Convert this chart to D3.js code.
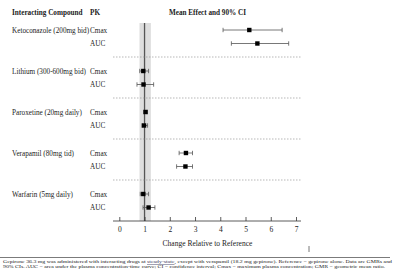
<!DOCTYPE html>
<html><head><meta charset="utf-8">
<script src="https://cdnjs.cloudflare.com/ajax/libs/d3/7.8.5/d3.min.js"></script>
<style>body{margin:0;background:#fff}svg{display:block}text{font-family:"Liberation Serif","DejaVu Serif",serif;fill:#222}</style>
</head><body><svg id="c" width="400" height="277"></svg>
<script>
const compounds = ["Ketoconazole (200mg bid)", "Lithium (300-600mg bid)", "Paroxetine (20mg daily)", "Verapamil (80mg tid)", "Warfarin (5mg daily)"];
const pkParams = ["Cmax", "AUC"];
const cmaxMean = [5.15, 0.95, 1.04, 2.64, 0.95];
const cmaxLow  = [4.11, 0.81, 0.98, 2.37, 0.83];
const cmaxHigh = [6.45, 1.16, 1.10, 2.90, 1.16];
const aucMean  = [5.47, 0.96, 0.98, 2.62, 1.16];
const aucLow   = [4.44, 0.70, 0.90, 2.27, 0.94];
const aucHigh  = [6.71, 1.36, 1.12, 2.90, 1.41];
const xTicks = [0, 1, 2, 3, 4, 5, 6, 7];
const refBand = [0.8, 1.25];
const footnote1 = ["Gepirone 36.3 mg was administered with interacting drugs at ", "steady-state", ", except with verapamil (18.2 mg gepirone). Reference = gepirone alone. Data are GMRs and"];
const footnote2 = "90% CIs. AUC = area under the plasma concentration-time curve; CI = confidence interval; Cmax = maximum plasma concentration; GMR = geometric mean ratio.";

const svg = d3.select("#c");
const x = d3.scaleLinear().domain([0, 7]).range([119.3, 296]);
const gy = d3.scalePoint().domain(compounds).range([30, 194]);
const rowOff = d3.scalePoint().domain(pkParams).range([0, 13.5]);
const axisY = 221, plotTop = 23;

const rows = [];
compounds.forEach((c, i) => {
  rows.push({c, pk: "Cmax", m: cmaxMean[i], lo: cmaxLow[i], hi: cmaxHigh[i]});
  rows.push({c, pk: "AUC", m: aucMean[i], lo: aucLow[i], hi: aucHigh[i]});
});
const ry = d => gy(d.c) + rowOff(d.pk);

// reference band and line
svg.append("rect").attr("x", x(refBand[0])).attr("y", plotTop)
  .attr("width", x(refBand[1]) - x(refBand[0])).attr("height", axisY - plotTop).attr("fill", "#dedede");
svg.append("line").attr("x1", x(1)).attr("x2", x(1)).attr("y1", plotTop).attr("y2", axisY)
  .attr("stroke", "#555").attr("stroke-width", 1.3);

// separators
compounds.slice(0, -1).forEach(c => {
  const yy = gy(c) + 27;
  svg.append("line").attr("x1", 113).attr("x2", 301).attr("y1", yy).attr("y2", yy)
    .attr("stroke", "#999").attr("stroke-width", 0.7).attr("stroke-dasharray", "1.5,1.5");
});

// axis
const ax = svg.append("g").attr("transform", `translate(0,${axisY})`)
  .call(d3.axisBottom(x).tickValues(xTicks).tickFormat(d3.format("d")).tickSizeInner(-4).tickSizeOuter(0).tickPadding(6));
ax.select(".domain").remove();
ax.selectAll(".tick line").attr("stroke", "#333").attr("stroke-width", 0.8);
ax.selectAll(".tick text").attr("font-size", 7.5).attr("font-family", "Liberation Serif").attr("fill", "#222").attr("dy", "0.71em");
svg.append("line").attr("x1", 113).attr("x2", 301).attr("y1", axisY).attr("y2", axisY).attr("stroke", "#333").attr("stroke-width", 0.8);

// error bars
const g = svg.append("g");
rows.forEach(d => {
  const yy = ry(d);
  g.append("line").attr("x1", x(d.lo)).attr("x2", x(d.hi)).attr("y1", yy).attr("y2", yy).attr("stroke", "#555").attr("stroke-width", 0.8);
  [d.lo, d.hi].forEach(v => g.append("line").attr("x1", x(v)).attr("x2", x(v)).attr("y1", yy - 2.2).attr("y2", yy + 2.2).attr("stroke", "#555").attr("stroke-width", 0.8));
  g.append("rect").attr("x", x(d.m) - 2.2).attr("y", yy - 2.2).attr("width", 4.4).attr("height", 4.4).attr("fill", "#000");
});

// labels
compounds.forEach(c => {
  svg.append("text").attr("x", 12).attr("y", gy(c)).attr("dy", "0.35em").attr("font-size", 7.2).text(c);
});
rows.forEach(d => {
  svg.append("text").attr("x", 90).attr("y", ry(d)).attr("dy", "0.35em").attr("font-size", 7.2).text(d.pk);
});

// headers
svg.append("text").attr("x", 12).attr("y", 12).attr("dy", "0.35em").attr("font-size", 7.2).attr("font-weight", "bold").text("Interacting Compound");
svg.append("text").attr("x", 90).attr("y", 12).attr("dy", "0.35em").attr("font-size", 7.2).attr("font-weight", "bold").text("PK");
svg.append("text").attr("x", 207.5).attr("y", 12).attr("dy", "0.35em").attr("text-anchor", "middle").attr("font-size", 7.2).attr("font-weight", "bold").text("Mean Effect and 90% CI");
svg.append("text").attr("x", 207.5).attr("y", 243).attr("dy", "0.35em").attr("text-anchor", "middle").attr("font-size", 7.5).text("Change Relative to Reference");

// stray mark
svg.append("line").attr("x1", 309).attr("x2", 309).attr("y1", 246).attr("y2", 252).attr("stroke", "#555").attr("stroke-width", 0.8);

// footnote
svg.append("line").attr("x1", 0).attr("x2", 390).attr("y1", 257.5).attr("y2", 257.5).attr("stroke", "#222").attr("stroke-width", 0.6);
const t1 = svg.append("text").attr("x", 3).attr("y", 263).attr("font-size", 5)
  .attr("textLength", 389).attr("lengthAdjust", "spacingAndGlyphs");
t1.append("tspan").text(footnote1[0]);
t1.append("tspan").attr("text-decoration", "underline").attr("fill", "#446").text(footnote1[1]);
t1.append("tspan").text(footnote1[2]);
svg.append("text").attr("x", 3).attr("y", 268).attr("font-size", 5)
  .attr("textLength", 382).attr("lengthAdjust", "spacingAndGlyphs").text(footnote2);
</script></body></html>
